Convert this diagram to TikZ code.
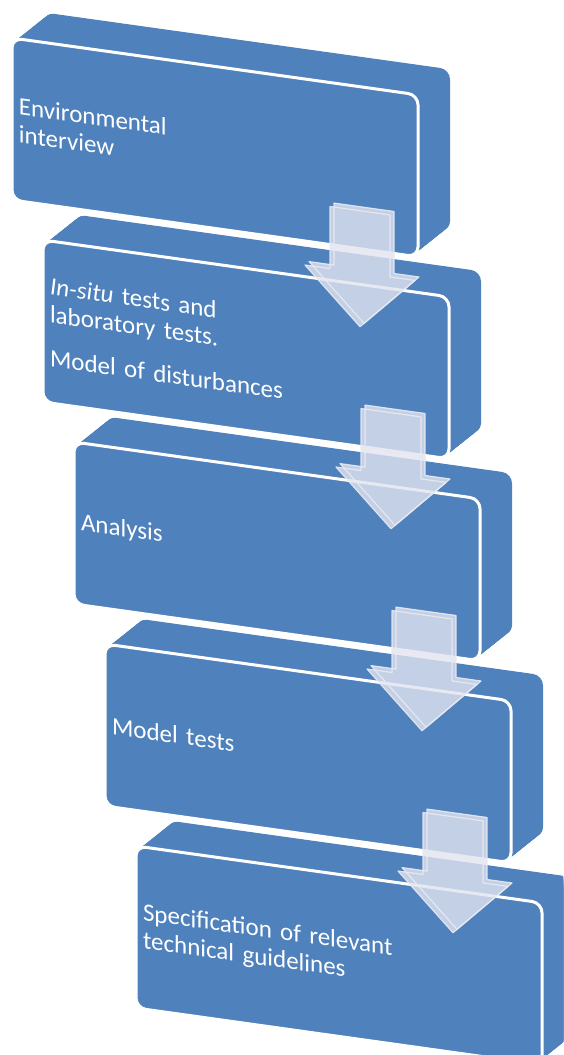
\documentclass[tikz,border=0pt]{standalone}
\usepackage{fontspec}
\setmainfont{Carlito}
\definecolor{boxblue}{RGB}{79,129,189}
\definecolor{arrowfill}{RGB}{226,228,239}
\definecolor{arrowline}{RGB}{232,234,241}
\tikzset{
  stagebox/.style={draw=white, line width=3pt, fill=boxblue, rounded corners=10pt, transform shape,
    minimum width=406pt, minimum height=162pt, text width=392pt, inner xsep=7pt, outer sep=0pt,
    align=left, anchor=north west, text=white, font=\fontsize{25}{28}\selectfont},
  stagedepth/.style={fill=boxblue, rounded corners=10pt},
  flowarrow/.style={draw=arrowline, draw opacity=0.9, line width=1.2pt, line join=round}
}

\begin{document}
\begin{tikzpicture}[x=1pt, y=1pt]
  \useasboundingbox (0,0) rectangle (563,-1055);
  \clip (0,0) rectangle (563,-1055);

  % Stage 5: guidelines
  \begin{scope}[shift={(136,-846)}, yslant=-0.14]
    \foreach \t in {0,...,50} \fill[stagedepth] (0.64*\t,0.6*\t) rectangle ++(406,-162);
    \node[stagebox] (spec) at (0,0) {Specification of relevant\\technical guidelines};
  \end{scope}

  % Stage 4: model tests
  \begin{scope}[shift={(105,-644)}, yslant=-0.14]
    \foreach \t in {0,...,50} \fill[stagedepth] (0.64*\t,0.6*\t) rectangle ++(406,-162);
    \node[stagebox] (modeltests) at (0,0) {Model tests};
  \end{scope}

  % Stage 3: analysis
  \begin{scope}[shift={(74,-442)}, yslant=-0.14]
    \foreach \t in {0,...,50} \fill[stagedepth] (0.64*\t,0.6*\t) rectangle ++(406,-162);
    \node[stagebox] (analysis) at (0,0) {Analysis};
  \end{scope}

  % Stage 2: tests and disturbance model
  \begin{scope}[shift={(43,-240)}, yslant=-0.14]
    \foreach \t in {0,...,50} \fill[stagedepth] (0.64*\t,0.6*\t) rectangle ++(406,-162);
    \node[stagebox] (insitu) at (0,0) {\textit{In-situ} tests and\\laboratory tests.\\[16pt]Model of disturbances};
  \end{scope}

  % Stage 1: interview
  \begin{scope}[shift={(12,-38)}, yslant=-0.14]
    \foreach \t in {0,...,50} \fill[stagedepth] (0.64*\t,0.6*\t) rectangle ++(406,-162);
    \node[stagebox] (env) at (0,0) {Environmental\\interview};
  \end{scope}

  % Down arrows between stages
  \foreach \from in {env,insitu,analysis,modeltests} {
    \begin{scope}[shift={(\from.north west)}, yslant=-0.14]
      \fill[arrowfill, fill opacity=0.8]
        (322,-120) -- (382,-120) -- (382,-182) -- (407,-182) -- (352,-236) -- (297,-182) -- (322,-182) -- cycle
        (318,-124) -- (378,-124) -- (378,-186) -- (403,-186) -- (348,-240) -- (293,-186) -- (318,-186) -- cycle;
      \draw[flowarrow] (322,-120) -- (382,-120) -- (382,-182) -- (407,-182) -- (352,-236) -- (297,-182) -- (322,-182) -- cycle;
      \draw[flowarrow] (318,-124) -- (378,-124) -- (378,-186) -- (403,-186) -- (348,-240) -- (293,-186) -- (318,-186) -- cycle;
    \end{scope}
  }
\end{tikzpicture}
\end{document}
